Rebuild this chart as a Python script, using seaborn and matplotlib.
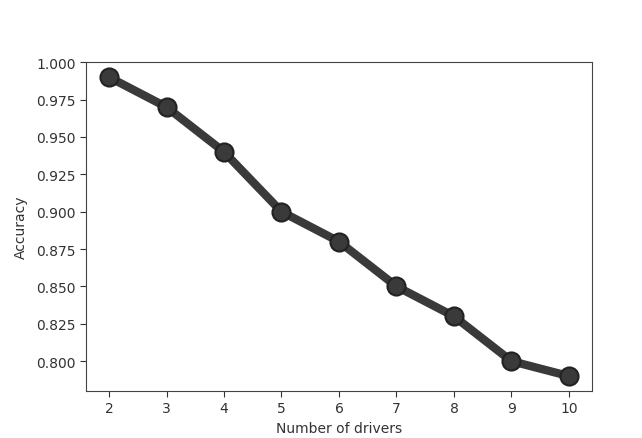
import numpy as np
import pandas as pd
import seaborn as sns
from matplotlib import pyplot as plt

drivers = [2, 3, 4, 5, 6, 7, 8, 9, 10]
accuracy = [0.99, 0.97, 0.94, 0.90, 0.88, 0.85, 0.83, 0.80, 0.79]

df = pd.DataFrame({'drivers': drivers, 'accuracy': accuracy})

sns.set_style("ticks")
plt.rcParams['font.family'] = ['DejaVu Sans']

fig = plt.figure(figsize=(6.42, 4.39), dpi=100)
ax = fig.add_axes([0.134, 0.107, 0.788, 0.749])

sns.lineplot(data=df, x='drivers', y='accuracy', ax=ax, color='#3a3a3a',
             linewidth=6, marker='o', markersize=13,
             markeredgecolor='#222222', markeredgewidth=1.5)

ax.set_xlim(1.6, 10.4)
ax.set_ylim(0.78, 1.0)
ax.set_xticks(drivers)
ax.set_yticks(np.arange(0.8, 1.001, 0.025))
ax.set_yticklabels([f'{v:.3f}' for v in np.arange(0.8, 1.001, 0.025)])
ax.set_xlabel('Number of drivers', fontsize=10, color='#333333')
ax.set_ylabel('Accuracy', fontsize=10, color='#333333', labelpad=6)
ax.tick_params(labelsize=10, colors='#333333', length=4)
for s in ax.spines.values():
    s.set_color('#444444')

fig.savefig('out.png', dpi=100)
